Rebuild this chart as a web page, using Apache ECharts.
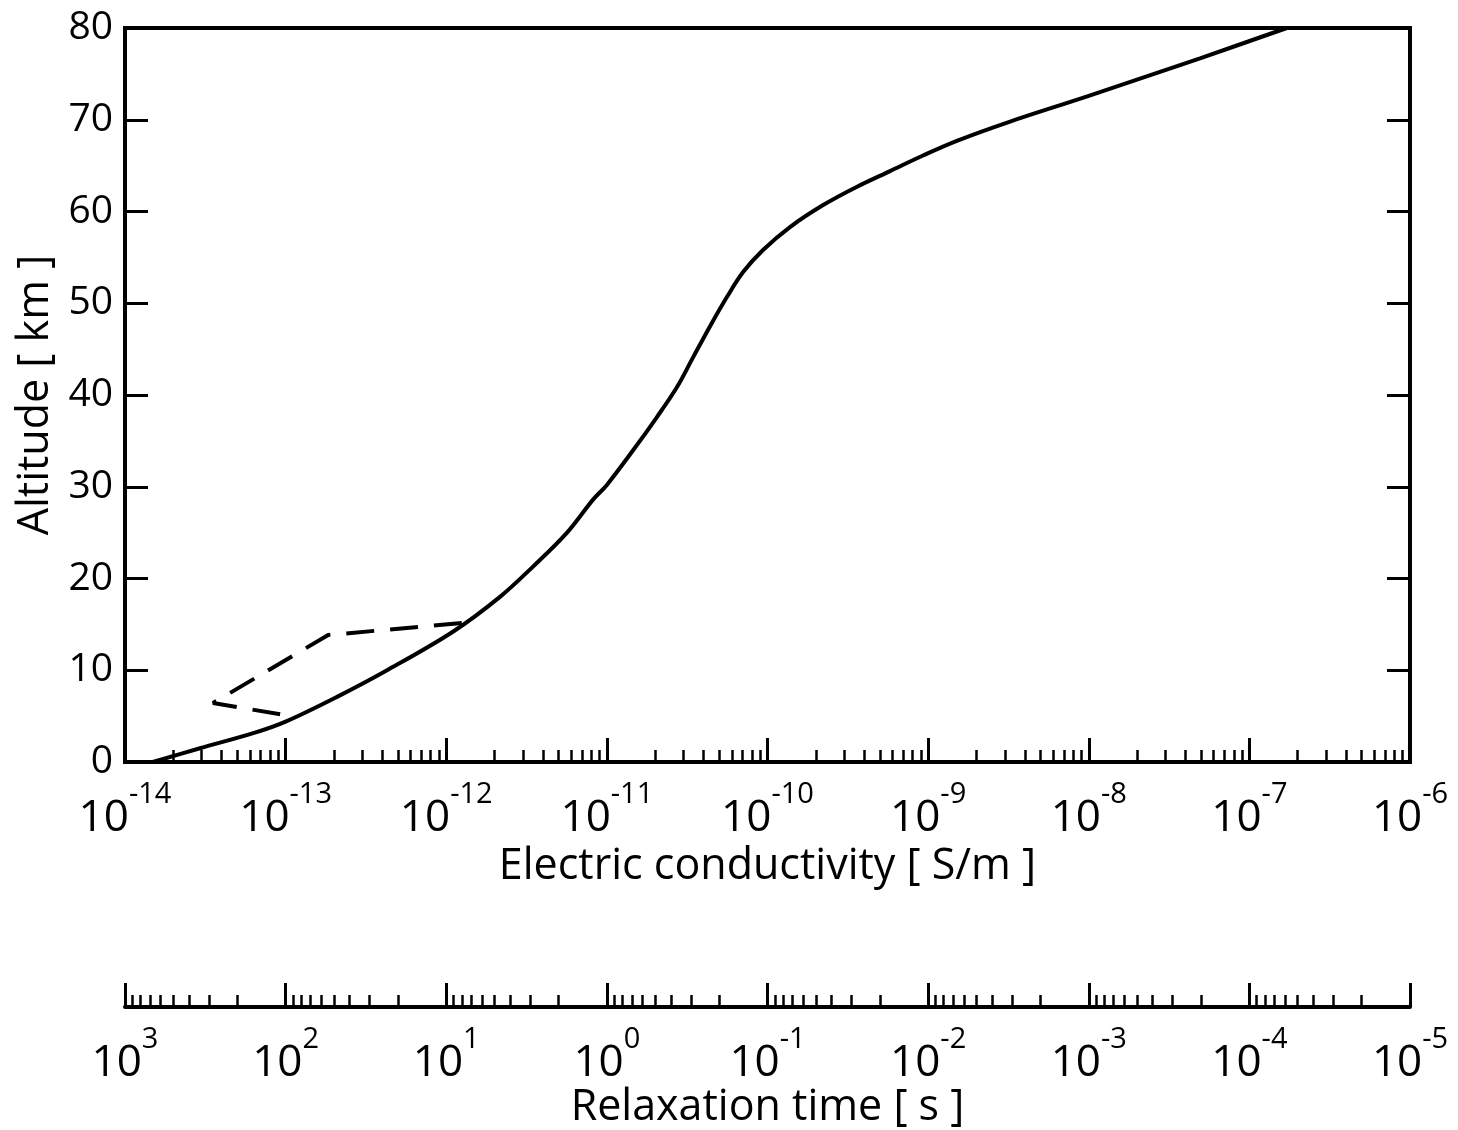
<!DOCTYPE html>
<html>
<head>
<meta charset="utf-8">
<script src="https://cdn.jsdelivr.net/npm/echarts@6/dist/echarts.min.js"></script>
<style>
html,body{margin:0;padding:0;background:#ffffff;}
#chart{width:1458px;height:1130px;}
</style>
</head>
<body>
<div id="chart"></div>
<script>
// ---- data ----
const altitudeSolid = [0, 1.5, 3.2, 4.4, 7.1, 10.0, 14.2, 18.0, 21.3, 25.0, 28.6, 30.2, 34.0, 37.6, 40.9, 44.1, 47.5, 50.7, 53.4, 55.8, 58.3, 60.7, 62.7, 64.4, 66.1, 67.7, 69.8, 72.6, 76.7, 80];
const conductivitySolid = [1.49e-14, 2.93e-14, 6.44e-14, 1.00e-13, 2.09e-13, 4.28e-13, 1.10e-12, 2.16e-12, 3.47e-12, 5.65e-12, 8.20e-12, 1.00e-11, 1.46e-11, 2.05e-11, 2.74e-11, 3.44e-11, 4.39e-11, 5.60e-11, 7.05e-11, 9.38e-11, 1.38e-10, 2.22e-10, 3.61e-10, 5.79e-10, 9.29e-10, 1.51e-9, 3.24e-9, 1.00e-8, 4.93e-8, 1.71e-7];
const altitudeDashed = [15.15, 13.84, 6.43, 5.12];
const conductivityDashed = [1.25e-12, 1.84e-13, 3.53e-14, 9.9e-14];

// tick labels (decade exponents)
const conductivityExponents = [-14, -13, -12, -11, -10, -9, -8, -7, -6];
const relaxationExponents = [3, 2, 1, 0, -1, -2, -3, -4, -5];
const altitudeTicks = [0, 10, 20, 30, 40, 50, 60, 70, 80];
const minorMultipliers = [2, 3, 4, 5, 6, 7, 8, 9];

// ---- derived tables for the library ----
function minorTicksFor(exps) {
  const lo = Math.min.apply(null, exps), hi = Math.max.apply(null, exps);
  const out = [];
  for (let n = lo; n < hi; n++) {
    minorMultipliers.forEach(k => out.push(n + Math.log10(k)));
  }
  return out;
}
const minorMain = minorTicksFor(conductivityExponents);
const minorRelax = minorTicksFor(relaxationExponents);

const FONT = 'Open Sans';
const BLACK = '#000000';

const richLabel = {
  b: { fontSize: 44, fontFamily: FONT, color: BLACK, verticalAlign: 'bottom' },
  s: { fontSize: 29, fontFamily: FONT, color: BLACK, verticalAlign: 'top', padding: [0, 0, 31, 0] }
};
const powFormatter = v => '{b|10}{s|' + Math.round(v) + '}';

const solidData = conductivitySolid.map((c, i) => [Math.log10(c), altitudeSolid[i]]);
const dashedData = conductivityDashed.map((c, i) => [Math.log10(c), altitudeDashed[i]]);

const chart = echarts.init(document.getElementById('chart'), null, { renderer: 'canvas' });

const option = {
  animation: false,
  backgroundColor: '#ffffff',
  grid: [
    { left: 125, right: 48, top: 28, height: 734, show: true, borderColor: BLACK, borderWidth: 4, backgroundColor: 'transparent' },
    { left: 125, right: 48, top: 1000, height: 7, show: false }
  ],
  xAxis: [
    {
      type: 'value', gridIndex: 0, position: 'bottom',
      min: -14, max: -6, interval: 1,
      axisLine: { show: true, onZero: false, lineStyle: { color: BLACK, width: 4 } },
      axisTick: { show: true, inside: true, length: 24, lineStyle: { color: BLACK, width: 3 } },
      axisLabel: { show: true, margin: 18, formatter: powFormatter, rich: richLabel, customValues: conductivityExponents, showMinLabel: true, showMaxLabel: true },
      splitLine: { show: false },
      name: 'Electric conductivity [ S/m ]', nameLocation: 'middle', nameGap: 72,
      nameTextStyle: { fontSize: 43, fontFamily: FONT, color: BLACK }
    },
    {
      type: 'value', gridIndex: 0, position: 'bottom',
      min: -14, max: -6,
      axisLine: { show: false, onZero: false },
      axisTick: { show: true, inside: true, length: 12, customValues: minorMain, lineStyle: { color: BLACK, width: 2.5 } },
      axisLabel: { show: false },
      splitLine: { show: false }
    },
    {
      type: 'value', gridIndex: 1, position: 'bottom', inverse: true,
      min: -5, max: 3, interval: 1,
      axisLine: { show: true, onZero: false, lineStyle: { color: BLACK, width: 4 } },
      axisTick: { show: true, inside: true, length: 24, lineStyle: { color: BLACK, width: 3 } },
      axisLabel: { show: true, margin: 18, formatter: powFormatter, rich: richLabel, customValues: relaxationExponents, showMinLabel: true, showMaxLabel: true },
      splitLine: { show: false },
      name: 'Relaxation time [ s ]', nameLocation: 'middle', nameGap: 72,
      nameTextStyle: { fontSize: 43, fontFamily: FONT, color: BLACK }
    },
    {
      type: 'value', gridIndex: 1, position: 'bottom', inverse: true,
      min: -5, max: 3,
      axisLine: { show: false, onZero: false },
      axisTick: { show: true, inside: true, length: 12, customValues: minorRelax, lineStyle: { color: BLACK, width: 2.5 } },
      axisLabel: { show: false },
      splitLine: { show: false }
    }
  ],
  yAxis: [
    {
      type: 'value', gridIndex: 0, position: 'left',
      min: 0, max: 80, interval: 10,
      axisLine: { show: true, onZero: false, lineStyle: { color: BLACK, width: 4 } },
      axisTick: { show: true, inside: true, length: 23, lineStyle: { color: BLACK, width: 3 } },
      axisLabel: { show: true, margin: 12, fontSize: 39, fontFamily: FONT, color: BLACK, customValues: altitudeTicks },
      splitLine: { show: false },
      name: 'Altitude [ km ]', nameLocation: 'middle', nameGap: 68, nameRotate: 90,
      nameTextStyle: { fontSize: 43, fontFamily: FONT, color: BLACK }
    },
    {
      type: 'value', gridIndex: 0, position: 'right',
      min: 0, max: 80, interval: 10,
      axisLine: { show: true, onZero: false, lineStyle: { color: BLACK, width: 4 } },
      axisTick: { show: true, inside: true, length: 23, lineStyle: { color: BLACK, width: 3 } },
      axisLabel: { show: false },
      splitLine: { show: false }
    },
    {
      type: 'value', gridIndex: 1, min: 0, max: 1, show: false
    }
  ],
  series: [
    {
      name: 'conductivity', type: 'line', xAxisIndex: 0, yAxisIndex: 0,
      data: solidData, showSymbol: false, smooth: 0.35,
      lineStyle: { color: BLACK, width: 4 }
    },
    {
      name: 'conductivity (alt.)', type: 'line', xAxisIndex: 0, yAxisIndex: 0,
      data: dashedData, showSymbol: false, smooth: false,
      lineStyle: { color: BLACK, width: 4, type: [28, 16] }
    }
  ]
};
chart.setOption(option);
</script>
</body>
</html>
